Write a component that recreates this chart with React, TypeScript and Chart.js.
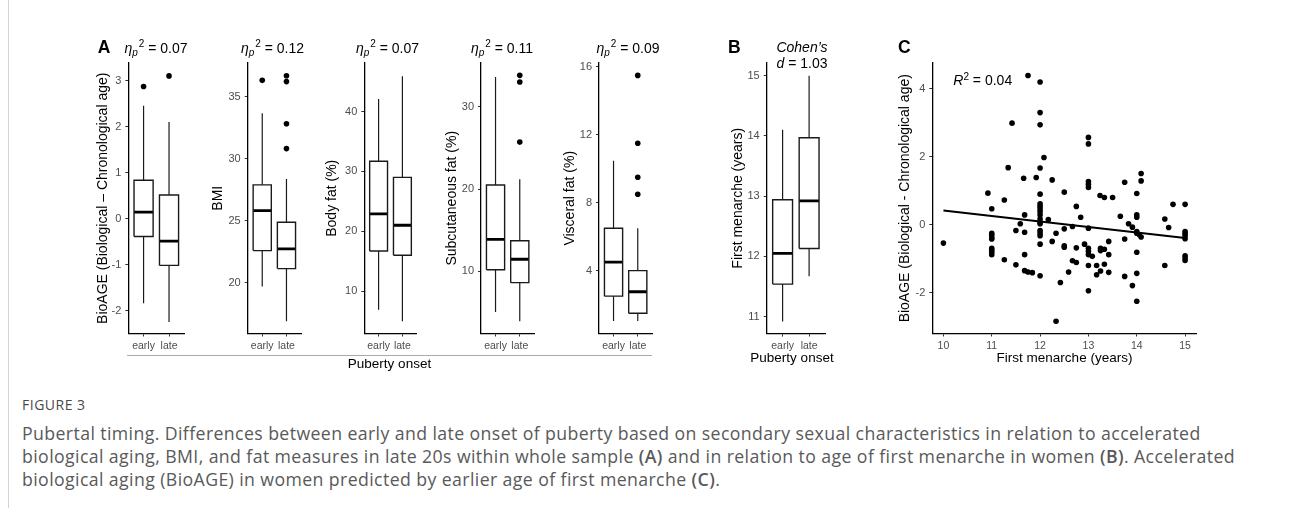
import React, { useEffect, useRef } from 'react';
import { Chart, registerables } from 'chart.js';

Chart.register(...registerables);

// ---------- DATA ----------
const groups = ['early', 'late'];
// five-number summaries: [lower whisker, Q1, median, Q3, upper whisker]
const bioageEarly = [-1.84, -0.39, 0.14, 0.83, 2.45];
const bioageLate = [-2.25, -1.02, -0.49, 0.51, 2.1];
const bioageOutEarly = [2.87];
const bioageOutLate = [3.1];

const bmiEarly = [19.68, 22.58, 25.8, 27.88, 33.66];
const bmiLate = [16.88, 21.13, 22.72, 24.87, 28.36];
const bmiOutEarly = [36.3];
const bmiOutLate = [36.67, 36.2, 32.8, 30.8];

const bodyFatEarly = [6.9, 16.7, 22.9, 31.7, 42.1];
const bodyFatLate = [4.97, 16.0, 21.0, 29.0, 45.9];
const bodyFatOutEarly: number[] = [];
const bodyFatOutLate: number[] = [];

const subcutEarly = [5.07, 10.2, 13.9, 20.5, 33.6];
const subcutLate = [3.97, 8.64, 11.48, 13.73, 21.2];
const subcutOutEarly: number[] = [];
const subcutOutLate = [33.8, 33.0, 25.7];

const visceralEarly = [1.03, 2.5, 4.5, 6.5, 10.47];
const visceralLate = [1.03, 1.49, 2.76, 4.0, 6.5];
const visceralOutEarly: number[] = [];
const visceralOutLate = [15.5, 11.5, 9.5, 8.5];

const menarcheEarly = [10.92, 11.54, 12.05, 12.94, 14.1];
const menarcheLate = [11.67, 12.13, 12.92, 13.97, 15.0];
const menarcheOutEarly: number[] = [];
const menarcheOutLate: number[] = [];

const bioageTicks = [-2, -1, 0, 1, 2, 3];
const bmiTicks = [20, 25, 30, 35];
const bodyFatTicks = [10, 20, 30, 40];
const subcutTicks = [10, 20, 30];
const visceralTicks = [4, 8, 12, 16];
const menarcheTicks = [11, 12, 13, 14, 15];
const scatterXTicks = [10, 11, 12, 13, 14, 15];
const scatterYTicks = [-2, 0, 2, 4];

// panel C scatter
const menarcheAge = [
  10.0, 10.92, 11.0, 11.0, 11.0, 11.0, 11.0, 11.0, 11.0, 11.0, 11.0, 11.26, 11.26, 11.34, 11.42,
  11.5, 11.5, 11.59, 11.66, 11.68, 11.68, 11.68, 11.68, 11.75, 11.75, 11.84, 11.92,
  12.0, 12.0, 12.0, 12.0, 12.0, 12.0, 12.0, 12.0, 12.0, 12.0, 12.0, 12.0, 12.0, 12.0, 12.0, 12.0, 12.0, 12.0,
  12.08, 12.17, 12.25, 12.25, 12.33, 12.33, 12.42, 12.5, 12.5, 12.5, 12.5, 12.59, 12.67, 12.67,
  12.75, 12.75, 12.75, 12.84, 12.92,
  13.0, 13.0, 13.0, 13.0, 13.0, 13.0, 13.0, 13.0, 13.0, 13.0, 13.0, 13.08, 13.17, 13.17,
  13.24, 13.25, 13.25, 13.25, 13.33, 13.33, 13.33, 13.42, 13.42, 13.42, 13.5, 13.66,
  13.75, 13.75, 13.75, 13.83, 13.91, 13.91,
  14.0, 14.0, 14.0, 14.0, 14.0, 14.0, 14.0, 14.0, 14.05, 14.09, 14.09, 14.09,
  14.58, 14.58, 14.66, 14.75, 15.0, 15.0, 15.0, 15.0, 15.0, 15.0, 15.0, 15.0,
];
const bioageDiff = [
  -0.54, 0.93, 0.47, -0.25, -0.31, -0.39, -0.42, -0.69, -0.75, -0.81, -0.88, 0.73, -1.03, 1.68, 2.99,
  -0.17, -1.18, 0.03, 1.37, 0.29, -0.22, -0.88, -1.35, 4.39, -1.39, -1.41, 1.39,
  4.2, 3.3, 2.94, 1.67, 0.9, 0.62, 0.54, 0.46, 0.39, 0.29, 0.17, 0.07, 0.03, -0.17, -0.24, -0.32, -0.57, -1.5,
  1.98, 0.15, 1.32, -0.49, -0.25, -2.84, -1.7, 0.96, -0.12, -0.62, -0.66, -1.39, -0.05, -1.06,
  0.54, -0.68, -1.11, 0.22, -0.57,
  2.57, 2.38, 1.27, 1.19, 1.1, -0.1, -0.69, -0.78, -0.88, -1.2, -1.94, -0.93, -1.2, -1.47,
  0.86, -0.69, -0.76, -1.36, 0.8, -0.72, -1.16, -0.49, -0.88, -1.4, 0.8, 0.25,
  1.25, -0.42, -1.52, 0.03, -0.07, -1.79,
  0.92, 0.29, 0.22, -0.2, -0.25, -0.81, -1.43, -2.25, -0.29, 1.51, 1.29, -0.36,
  0.17, -1.2, -0.08, 0.6, 0.6, -0.2, -0.26, -0.32, -0.41, -0.91, -0.98, -1.05,
];
const fitX = [10, 15];
const fitY = [0.42, -0.39];

// ---------- STYLE / LAYOUT ----------
const FONT = "'Liberation Sans', Arial, Helvetica, sans-serif";
const HALF = 0.375; // half box width in category units
const TOP = 63;
const BOTTOM = 333.5;
const TITLE_SIZE = 14;
const TITLE_HALF = (TITLE_SIZE * 1.2) / 2;

type Geo = { axisX: number; right: number; titleCenter: number };

function geometry(g: Geo) {
  const PAD_TOP = 12;
  const titleLeft = g.titleCenter - TITLE_HALF;
  const cl = Math.floor(titleLeft);
  const padLeft = titleLeft - cl;
  const yW = g.axisX - titleLeft;
  const ct = Math.floor(TOP - PAD_TOP);
  const padTop = TOP - ct;
  const w = Math.ceil(g.right - cl + 8);
  const padRight = w - (g.right - cl);
  const h = Math.ceil(BOTTOM - ct + 28);
  const xH = h - (BOTTOM - ct);
  return { cl, ct, w, h, padLeft, padTop, padRight, yW, xH };
}

function boxDatasets(stats: number[][], outliers: number[][]) {
  const box: any[] = [];
  const whisk: any[] = [];
  const med: any[] = [];
  const out: any[] = [];
  stats.forEach((s, i) => {
    const x = i + 1;
    const [lo, q1, m, q3, hi] = s;
    box.push({ x: x - HALF, y: q1 }, { x: x + HALF, y: q1 }, { x: x + HALF, y: q3 }, { x: x - HALF, y: q3 }, { x: x - HALF, y: q1 }, { x, y: null });
    whisk.push({ x, y: q3 }, { x, y: hi }, { x, y: null }, { x, y: lo }, { x, y: q1 }, { x, y: null });
    med.push({ x: x - HALF, y: m }, { x: x + HALF, y: m }, { x, y: null });
    outliers[i].forEach((v) => out.push({ x, y: v }));
  });
  return [
    { data: whisk, showLine: true, borderColor: '#1a1a1a', borderWidth: 1.2, pointRadius: 0, borderCapStyle: 'butt' },
    { data: box, showLine: true, borderColor: '#1a1a1a', borderWidth: 1.4, pointRadius: 0, borderJoinStyle: 'miter' },
    { data: med, showLine: true, borderColor: '#000', borderWidth: 2.8, pointRadius: 0, borderCapStyle: 'butt' },
    { data: out, showLine: false, pointRadius: 2.8, backgroundColor: '#000', borderWidth: 0 },
  ];
}

type PlotSpec = {
  geo: Geo;
  datasets: any[];
  xMin: number;
  xMax: number;
  xTicks: number[];
  xLabels: string[] | null;
  yMin: number;
  yMax: number;
  yTicks: number[];
  yTitle: string;
};

function buildConfig(p: PlotSpec): any {
  const g = geometry(p.geo);
  return {
    type: 'scatter',
    data: { datasets: p.datasets },
    options: {
      animation: false,
      responsive: false,
      events: [],
      layout: { padding: { left: g.padLeft, top: g.padTop, right: g.padRight, bottom: 0 } },
      plugins: { legend: { display: false }, tooltip: { enabled: false }, title: { display: false } },
      scales: {
        x: {
          type: 'linear',
          min: p.xMin,
          max: p.xMax,
          afterBuildTicks: (s: any) => {
            s.ticks = p.xTicks.map((v) => ({ value: v }));
          },
          afterFit: (s: any) => {
            s.height = g.xH;
          },
          ticks: {
            autoSkip: false,
            maxRotation: 0,
            padding: 3,
            color: '#4d4d4d',
            font: { family: FONT, size: 10.5 },
            callback: (v: number, i: number) => (p.xLabels ? p.xLabels[i] : String(v)),
          },
          grid: { drawOnChartArea: false, drawTicks: true, tickLength: 3, color: '#333', lineWidth: 1 },
          border: { display: true, color: '#000', width: 1.3 },
        },
        y: {
          type: 'linear',
          min: p.yMin,
          max: p.yMax,
          afterBuildTicks: (s: any) => {
            s.ticks = p.yTicks.map((v) => ({ value: v }));
          },
          afterFit: (s: any) => {
            s.width = g.yW;
          },
          ticks: { autoSkip: false, padding: 4, color: '#4d4d4d', font: { family: FONT, size: 11 }, callback: (v: number) => String(v) },
          grid: { drawOnChartArea: false, drawTicks: true, tickLength: 3, color: '#333', lineWidth: 1 },
          border: { display: true, color: '#000', width: 1.3 },
          title: { display: true, text: p.yTitle, color: '#000', font: { family: FONT, size: TITLE_SIZE }, padding: 0 },
        },
      },
    },
  };
}

function Plot({ spec }: { spec: PlotSpec }) {
  const ref = useRef<HTMLCanvasElement>(null);
  const g = geometry(spec.geo);
  useEffect(() => {
    const chart = new Chart(ref.current as HTMLCanvasElement, buildConfig(spec));
    return () => chart.destroy();
  }, []);
  return (
    <canvas
      ref={ref}
      width={g.w}
      height={g.h}
      style={{ position: 'absolute', left: g.cl, top: g.ct, width: g.w, height: g.h }}
    />
  );
}

function Txt({ x, y, size = 14, align = 'center', bold = false, italic = false, color = '#000', family = FONT, spacing = 0, children }: any) {
  const tx = align === 'center' ? '-50%' : align === 'right' ? '-100%' : '0';
  return (
    <div
      style={{
        position: 'absolute',
        left: x,
        top: y - 0.8465 * size,
        fontSize: size,
        lineHeight: `${size}px`,
        fontFamily: family,
        fontWeight: bold ? 700 : 400,
        fontStyle: italic ? 'italic' : 'normal',
        letterSpacing: spacing,
        color,
        whiteSpace: 'nowrap',
        transform: `translateX(${tx})`,
      }}
    >
      {children}
    </div>
  );
}

function Eta({ value }: { value: string }) {
  return (
    <>
      <span style={{ fontStyle: 'italic' }}>η</span>
      <span style={{ fontStyle: 'italic', fontSize: 10, position: 'relative', top: 3, lineHeight: 0 }}>p</span>
      <span style={{ fontSize: 10, position: 'relative', top: -6, lineHeight: 0, marginLeft: 1 }}>2</span>
      {' = ' + value}
    </>
  );
}

const X_MIN = 0.4;
const X_MAX = 2.6;

const plots: PlotSpec[] = [
  {
    geo: { axisX: 128.3, right: 184.3, titleCenter: 102.7 },
    datasets: boxDatasets([bioageEarly, bioageLate], [bioageOutEarly, bioageOutLate]),
    xMin: X_MIN, xMax: X_MAX, xTicks: [1, 2], xLabels: groups,
    yMin: -2.5, yMax: 3.38, yTicks: bioageTicks, yTitle: 'BioAGE (Biological – Chronological age)',
  },
  {
    geo: { axisX: 247.7, right: 301, titleCenter: 218.3 },
    datasets: boxDatasets([bmiEarly, bmiLate], [bmiOutEarly, bmiOutLate]),
    xMin: X_MIN, xMax: X_MAX, xTicks: [1, 2], xLabels: groups,
    yMin: 15.9, yMax: 37.7, yTicks: bmiTicks, yTitle: 'BMI',
  },
  {
    geo: { axisX: 364.3, right: 416.7, titleCenter: 331.7 },
    datasets: boxDatasets([bodyFatEarly, bodyFatLate], [bodyFatOutEarly, bodyFatOutLate]),
    xMin: X_MIN, xMax: X_MAX, xTicks: [1, 2], xLabels: groups,
    yMin: 2.92, yMax: 48.1, yTicks: bodyFatTicks, yTitle: 'Body fat (%)',
  },
  {
    geo: { axisX: 481, right: 534.3, titleCenter: 452.5 },
    datasets: boxDatasets([subcutEarly, subcutLate], [subcutOutEarly, subcutOutLate]),
    xMin: X_MIN, xMax: X_MAX, xTicks: [1, 2], xLabels: groups,
    yMin: 2.47, yMax: 35.3, yTicks: subcutTicks, yTitle: 'Subcutaneous fat (%)',
  },
  {
    geo: { axisX: 599, right: 652.3, titleCenter: 570 },
    datasets: boxDatasets([visceralEarly, visceralLate], [visceralOutEarly, visceralOutLate]),
    xMin: X_MIN, xMax: X_MAX, xTicks: [1, 2], xLabels: groups,
    yMin: 0.3, yMax: 16.23, yTicks: visceralTicks, yTitle: 'Visceral fat (%)',
  },
  {
    geo: { axisX: 766.7, right: 825, titleCenter: 738 },
    datasets: boxDatasets([menarcheEarly, menarcheLate], [menarcheOutEarly, menarcheOutLate]),
    xMin: X_MIN, xMax: X_MAX, xTicks: [1, 2], xLabels: groups,
    yMin: 10.72, yMax: 15.21, yTicks: menarcheTicks, yTitle: 'First menarche (years)',
  },
  {
    geo: { axisX: 932.3, right: 1196.7, titleCenter: 904.7 },
    datasets: [
      {
        data: menarcheAge.map((x, i) => ({ x, y: bioageDiff[i] })),
        showLine: false, pointRadius: 2.8, backgroundColor: '#000', borderWidth: 0,
      },
      {
        data: fitX.map((x, i) => ({ x, y: fitY[i] })),
        showLine: true, pointRadius: 0, borderColor: '#000', borderWidth: 2.2,
      },
    ],
    xMin: 9.77, xMax: 15.24, xTicks: scatterXTicks, xLabels: null,
    yMin: -3.2, yMax: 4.76, yTicks: scatterYTicks, yTitle: 'BioAGE (Biological - Chronological age)',
  },
];

const etaValues = ['0.07', '0.12', '0.07', '0.11', '0.09'];
const etaCenters = [156, 272.5, 387.5, 502, 628];

const CAPTION_FONT = "'Open Sans', 'Noto Sans', sans-serif";
const CAP_SIZE = 17.7;

export default function App() {
  return (
    <div
      style={{
        position: 'absolute',
        left: 0,
        top: 0,
        width: 1290,
        height: 508,
        background: '#fff',
        overflow: 'hidden',
        fontFamily: FONT,
      }}
    >
      <div style={{ position: 'absolute', left: 8, top: 0, width: 1, height: 508, background: '#d4d4d4' }} />
      {plots.map((p, i) => (
        <Plot key={i} spec={p} />
      ))}

      {/* panel letters */}
      <Txt x={97.7} y={54.1} size={17.5} bold align="left">A</Txt>
      <Txt x={728} y={54.1} size={17.5} bold align="left">B</Txt>
      <Txt x={898} y={54.1} size={17.5} bold align="left">C</Txt>

      {etaValues.map((v, i) => (
        <Txt key={i} x={etaCenters[i]} y={53.3} size={14}>
          <Eta value={v} />
        </Txt>
      ))}

      <Txt x={802} y={51.7} size={14} italic>Cohen’s</Txt>
      <Txt x={802} y={68.3} size={14}>
        <span style={{ fontStyle: 'italic' }}>d</span> = 1.03
      </Txt>

      <Txt x={953.3} y={85} size={14} align="left">
        <span style={{ fontStyle: 'italic' }}>R</span>
        <span style={{ fontSize: 10, position: 'relative', top: -5, lineHeight: 0 }}>2</span> = 0.04
      </Txt>

      {/* shared x-axis label for A */}
      <div style={{ position: 'absolute', left: 127, top: 354.5, width: 525, height: 1.5, background: '#aaa' }} />
      <Txt x={389.5} y={368} size={13.5}>Puberty onset</Txt>
      <Txt x={792} y={362.5} size={13.5}>Puberty onset</Txt>
      <Txt x={1064.5} y={362.5} size={13.5}>First menarche (years)</Txt>

      {/* caption */}
      <Txt x={22} y={410} size={14} align="left" color="#4a4a4a" family={CAPTION_FONT} spacing={0.5}>
        FIGURE 3
      </Txt>
      <Txt x={22} y={440} size={CAP_SIZE} align="left" color="#595959" family={CAPTION_FONT} spacing={0.4}>
        Pubertal timing. Differences between early and late onset of puberty based on secondary sexual characteristics in relation to accelerated
      </Txt>
      <Txt x={22} y={463} size={CAP_SIZE} align="left" color="#595959" family={CAPTION_FONT} spacing={0.4}>
        biological aging, BMI, and fat measures in late 20s within whole sample <b style={{ fontWeight: 600 }}>(A)</b> and in relation to age of first menarche in women <b style={{ fontWeight: 600 }}>(B)</b>. Accelerated
      </Txt>
      <Txt x={22} y={486} size={CAP_SIZE} align="left" color="#595959" family={CAPTION_FONT} spacing={0.4}>
        biological aging (BioAGE) in women predicted by earlier age of first menarche <b style={{ fontWeight: 600 }}>(C)</b>.
      </Txt>
    </div>
  );
}
